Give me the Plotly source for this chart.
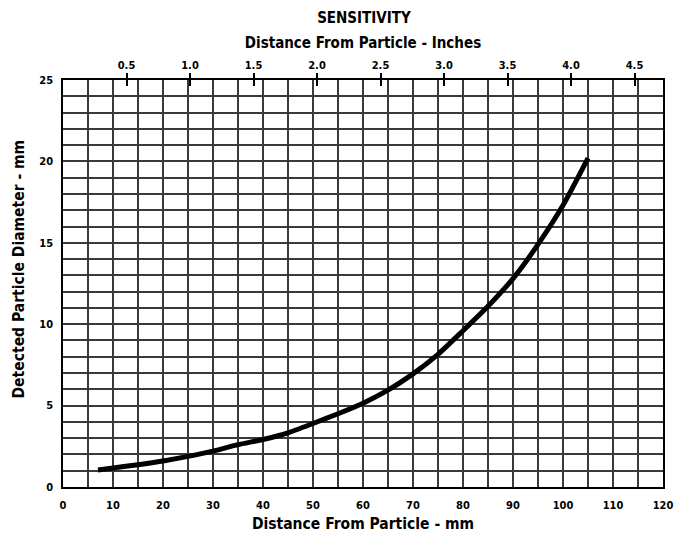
import plotly.graph_objects as go

# Data
distance_mm = [7, 10, 15, 20, 25, 30, 35, 40, 45, 50, 55, 60, 65, 70, 75, 80, 85, 90, 95, 100, 105]
diameter_mm = [1.05, 1.17, 1.37, 1.6, 1.88, 2.2, 2.6, 2.92, 3.33, 3.9, 4.5, 5.15, 5.95, 6.95,
               8.15, 9.6, 11.1, 12.8, 14.9, 17.3, 20.2]

x_ticks_mm = [0, 10, 20, 30, 40, 50, 60, 70, 80, 90, 100, 110, 120]
y_ticks = [0, 5, 10, 15, 20, 25]
inch_ticks = [0.5, 1.0, 1.5, 2.0, 2.5, 3.0, 3.5, 4.0, 4.5]
inch_labels = ["0.5", "1.0", "1.5", "2.0", "2.5", "3.0", "3.5", "4.0", "4.5"]

MM_PER_INCH = 25.4
X_MAX = 120
Y_MAX = 25

FONT = "DejaVu Sans Condensed, Liberation Sans Narrow, sans-serif"
GRID = "#3a3a3a"

fig = go.Figure()
fig.add_trace(go.Scatter(
    x=distance_mm, y=diameter_mm, mode="lines",
    line=dict(color="black", width=5, shape="spline", smoothing=0.6),
    showlegend=False, hoverinfo="x+y",
))

# invisible traces to activate top axes
fig.add_trace(go.Scatter(x=[0], y=[0], xaxis="x2", yaxis="y", mode="markers",
                         marker=dict(opacity=0), showlegend=False, hoverinfo="skip"))
fig.add_trace(go.Scatter(x=[0], y=[0], xaxis="x3", yaxis="y", mode="markers",
                         marker=dict(opacity=0), showlegend=False, hoverinfo="skip"))

fig.update_layout(
    width=678, height=525,
    margin=dict(l=55, r=23, t=72, b=46, autoexpand=False),
    paper_bgcolor="white", plot_bgcolor="white",
    font=dict(family=FONT, color="black"),
    title=dict(text="<b>SENSITIVITY</b>", x=0.525, xanchor="center",
               yref="container", y=0.981, yanchor="middle",
               font=dict(family=FONT, size=15, color="black"), automargin=False),
    xaxis=dict(
        range=[0, X_MAX], tickvals=x_ticks_mm, ticktext=[str(v) for v in x_ticks_mm],
        showgrid=True, gridcolor=GRID, gridwidth=1.5, automargin=False,
        minor=dict(dtick=5, showgrid=True, gridcolor=GRID, gridwidth=1.5),
        ticks="", zeroline=False, showline=True, linecolor="black", linewidth=1.5, mirror=True,
        ticklabelstandoff=7,
        tickfont=dict(family=FONT, size=11, weight="bold"),
        title=dict(text="<b>Distance From Particle - mm</b>", standoff=9,
                   font=dict(family=FONT, size=15.5)),
    ),
    xaxis2=dict(
        overlaying="x", side="top", range=[0, X_MAX / MM_PER_INCH], automargin=False,
        tickvals=inch_ticks, ticktext=inch_labels, ticks="outside", ticklen=6, tickwidth=2,
        tickcolor="black", showgrid=False, zeroline=False,
        tickfont=dict(family=FONT, size=11, weight="bold"),
        title=dict(text="<b>Distance From Particle - Inches</b>", standoff=6,
                   font=dict(family=FONT, size=15)),
    ),
    xaxis3=dict(
        overlaying="x", side="top", range=[0, X_MAX / MM_PER_INCH], automargin=False,
        tickvals=inch_ticks, ticktext=["" for _ in inch_ticks], ticks="inside", ticklen=6,
        tickwidth=2, tickcolor="black", showgrid=False, zeroline=False, showticklabels=False,
    ),
    yaxis=dict(
        range=[0, Y_MAX], tickvals=y_ticks, ticktext=[str(v) for v in y_ticks],
        showgrid=True, gridcolor=GRID, gridwidth=1.5, automargin=False,
        minor=dict(dtick=1, showgrid=True, gridcolor=GRID, gridwidth=1.5),
        ticks="", zeroline=False, showline=True, linecolor="black", linewidth=1.5, mirror=True,
        ticklabelstandoff=6,
        tickfont=dict(family=FONT, size=11, weight="bold"),
    ),
    annotations=[dict(
        text="<b>Detected Particle Diameter - mm</b>", textangle=-90,
        xref="paper", yref="paper", x=-0.073, y=0.535, xanchor="center", yanchor="middle",
        showarrow=False, font=dict(family=FONT, size=15.5, color="black"),
    )],
)

fig.write_html("out.html")
